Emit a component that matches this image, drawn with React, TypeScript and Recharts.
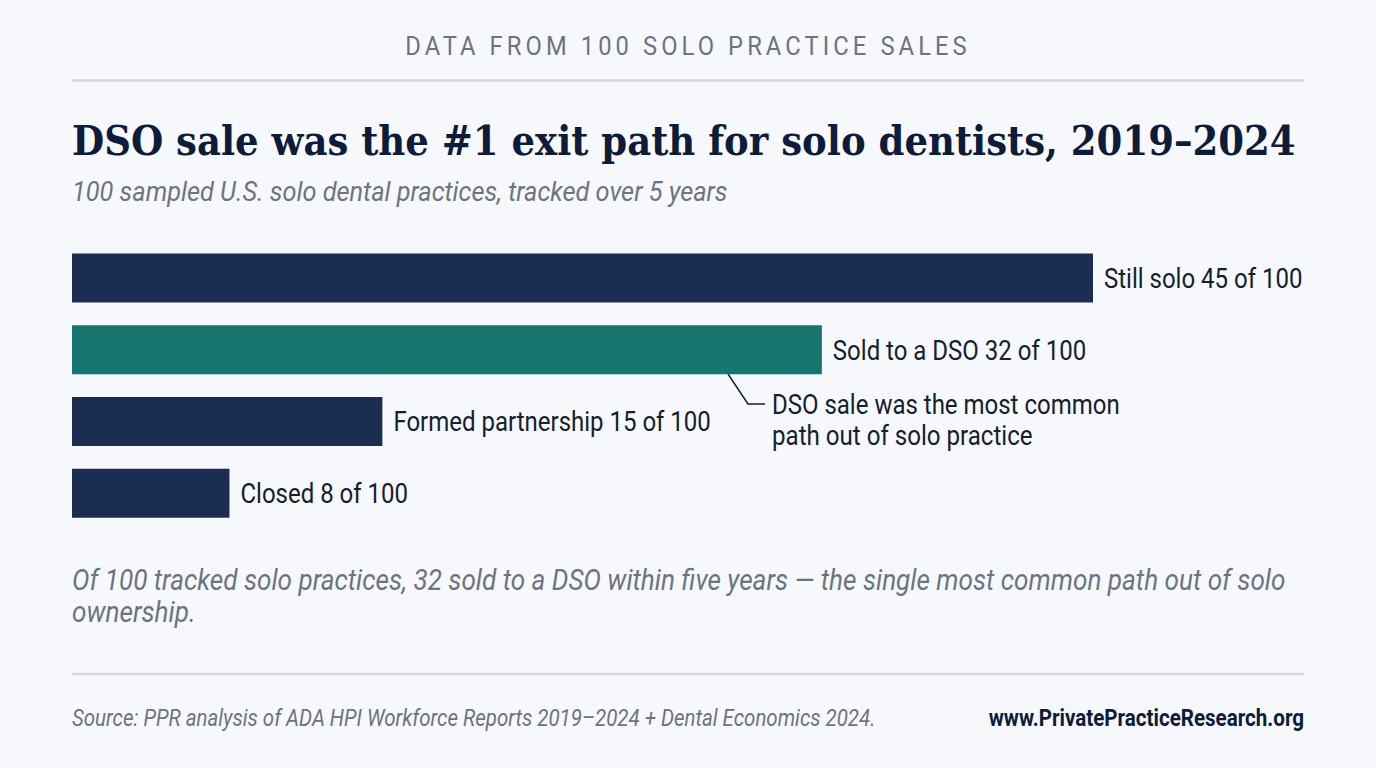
import React from "react";
import { BarChart, Bar, XAxis, YAxis, Cell, LabelList } from "recharts";

// Labels as printed in the reference.
const categories = ["Still solo", "Sold to a DSO", "Formed partnership", "Closed"];
const printedCounts = [45, 32, 15, 8];
// Bar lengths as drawn in the reference, in units where the top bar = 45.
// The reference's bars are not exactly proportional to its printed counts.
const drawnLengths = [45, 33.05, 13.68, 6.94];
const highlighted = "Sold to a DSO";

const NAVY = "#1b2d50";
const TEAL = "#177570";
const INK = "#0d1c3a";
const GREY = "#6b7480";
const LABEL = "#14202e";
const RULE = "#d2d7df";

const rows = categories.map((category, i) => ({
  category,
  length: drawnLengths[i],
  label: `${category} ${printedCounts[i]} of 100`,
}));

const T = ({ x, y, size, sx = 1, fill, family = "Roboto", weight = 400, italic = false, anchor = "start", spacing = 0, children }: any) => (
  <text
    transform={`translate(${x},${y}) scale(${sx},1)`}
    fontFamily={family}
    fontSize={size}
    fontWeight={weight}
    fontStyle={italic ? "italic" : "normal"}
    textAnchor={anchor}
    letterSpacing={spacing}
    fill={fill}
  >
    {children}
  </text>
);

const BarLabel = ({ x, y, width, height, value }: any) => (
  <T x={x + width + 11} y={y + height / 2 + 10} size={27} sx={0.889} fill={LABEL}>
    {value}
  </T>
);

export default function App() {
  return (
    <div style={{ position: "absolute", left: 0, top: 0, width: 1376, height: 768, background: "#f6f8fb", overflow: "hidden" }}>
      <svg width={1376} height={768} style={{ position: "absolute", left: 0, top: 0 }}>
        <T x={688} y={55} size={25} sx={0.95} fill={GREY} anchor="middle" spacing={4.3}>DATA FROM 100 SOLO PRACTICE SALES</T>
        <line x1={72} x2={1304} y1={80.5} y2={80.5} stroke={RULE} strokeWidth={2.5} />
        <T x={72} y={154.5} size={41} sx={0.904} fill={INK} family="DejaVu Serif" weight={700}>DSO sale was the #1 exit path for solo dentists, 2019–2024</T>
        <T x={72} y={200.5} size={28} sx={0.905} fill={GREY} italic>100 sampled U.S. solo dental practices, tracked over 5 years</T>
        <polyline points="728,374 748,404 765,404" fill="none" stroke={LABEL} strokeWidth={1.5} />
        <T x={772} y={413.5} size={27} sx={0.889} fill={LABEL}>DSO sale was the most common</T>
        <T x={772} y={444.5} size={27} sx={0.893} fill={LABEL}>path out of solo practice</T>
        <T x={72} y={589.5} size={29} sx={0.901} fill={GREY} italic>Of 100 tracked solo practices, 32 sold to a DSO within five years — the single most common path out of solo</T>
        <T x={72} y={621.5} size={29} sx={0.901} fill={GREY} italic>ownership.</T>
        <line x1={72} x2={1304} y1={674} y2={674} stroke={RULE} strokeWidth={2.5} />
        <T x={72} y={726} size={23} sx={0.89} fill={GREY} italic>Source: PPR analysis of ADA HPI Workforce Reports 2019–2024 + Dental Economics 2024.</T>
        <T x={1304} y={726} size={23} sx={0.895} fill={INK} weight={700} anchor="end">www.PrivatePracticeResearch.org</T>
      </svg>
      <div style={{ position: "absolute", left: 0, top: 242 }}>
        <BarChart
          width={1376}
          height={287}
          layout="vertical"
          data={rows}
          barCategoryGap={11.4}
          margin={{ top: 0, right: 283, bottom: 0, left: 72 }}
          style={{ overflow: "visible" }}
        >
          <XAxis type="number" domain={[0, 45]} hide />
          <YAxis type="category" dataKey="category" hide />
          <Bar dataKey="length" isAnimationActive={false}>
            {rows.map((r) => (
              <Cell key={r.category} fill={r.category === highlighted ? TEAL : NAVY} />
            ))}
            <LabelList dataKey="label" content={BarLabel} />
          </Bar>
        </BarChart>
      </div>
    </div>
  );
}
